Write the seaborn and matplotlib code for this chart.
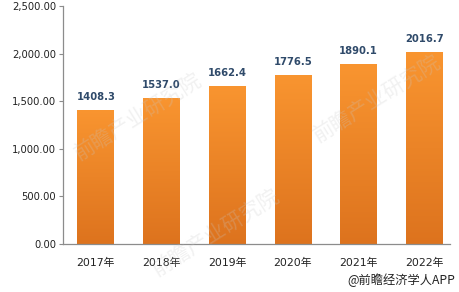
import numpy as np
import pandas as pd
import matplotlib
matplotlib.use("Agg")
import matplotlib.pyplot as plt
import seaborn as sns
from matplotlib.colors import LinearSegmentedColormap

years = ["2017年", "2018年", "2019年", "2020年", "2021年", "2022年"]
values = [1408.3, 1537.0, 1662.4, 1776.5, 1890.1, 2016.7]
yticks = [0, 500, 1000, 1500, 2000, 2500]

sns.set_theme(style="white")
plt.rcParams['font.family'] = ['DejaVu Sans', 'Noto Sans CJK SC']

fig = plt.figure(figsize=(4.6, 2.92), dpi=100)
ax = fig.add_axes([63/460, 1-244/292, (450-63)/460, (244-6)/292])

df = pd.DataFrame({"year": years, "value": values})
sns.barplot(data=df, x="year", y="value", color="#F29030", width=0.56,
            saturation=1, ax=ax, zorder=2)

# vertical gradient fill clipped to each bar
cmap = LinearSegmentedColormap.from_list("og", ["#DD731E", "#F99530"])
grad = np.linspace(0, 1, 256).reshape(-1, 1)
for p in ax.patches:
    x0, y0 = p.get_x(), p.get_y()
    w, h = p.get_width(), p.get_height()
    im = ax.imshow(grad, cmap=cmap, aspect="auto", origin="lower",
                   extent=[x0, x0 + w, y0, y0 + h], zorder=2.5)
    im.set_clip_path(p)
    ax.text(x0 + w / 2, h + 85, f"{h:.1f}", ha="center", va="bottom",
            fontsize=7.2, fontweight="bold", color="#2F4A6A", zorder=4)
ax.set_xlim(-0.5, 5.39)
ax.set_ylim(0, 2500)

ax.set_yticks(yticks)
ax.set_yticklabels([f"{v:,.2f}" for v in yticks])
ax.set_xlabel("")
ax.set_ylabel("")
for s in ["top", "right"]:
    ax.spines[s].set_visible(False)
for s in ["left", "bottom"]:
    ax.spines[s].set_color("#8C8C8C")
    ax.spines[s].set_linewidth(0.9)
ax.tick_params(axis="y", which="major", left=True, length=3, width=0.8,
               color="#8C8C8C", labelsize=7.2, labelcolor="#222222", pad=2)
ax.tick_params(axis="x", bottom=False, labelsize=7.8, labelcolor="#222222", pad=4)
for lbl in ax.get_xticklabels():
    lbl.set_fontfamily(['DejaVu Sans', 'Noto Sans CJK SC'])

# faint watermarks
for (x, y) in [(0.3, 0.6), (0.82, 0.66), (0.47, 0.2)]:
    fig.text(x, y, "前瞻产业研究院", fontsize=15, color="#C8C8C8", alpha=0.25,
             rotation=32, ha="center", va="center",
             family=['Noto Sans CJK SC'], zorder=10)

fig.text(0.99, 0.018, "@前瞻经济学人APP", ha="right", va="bottom",
         fontsize=8.8, color="#222222", family=['Noto Sans CJK SC', 'DejaVu Sans'])

fig.savefig("out.png", dpi=100, facecolor="white")
